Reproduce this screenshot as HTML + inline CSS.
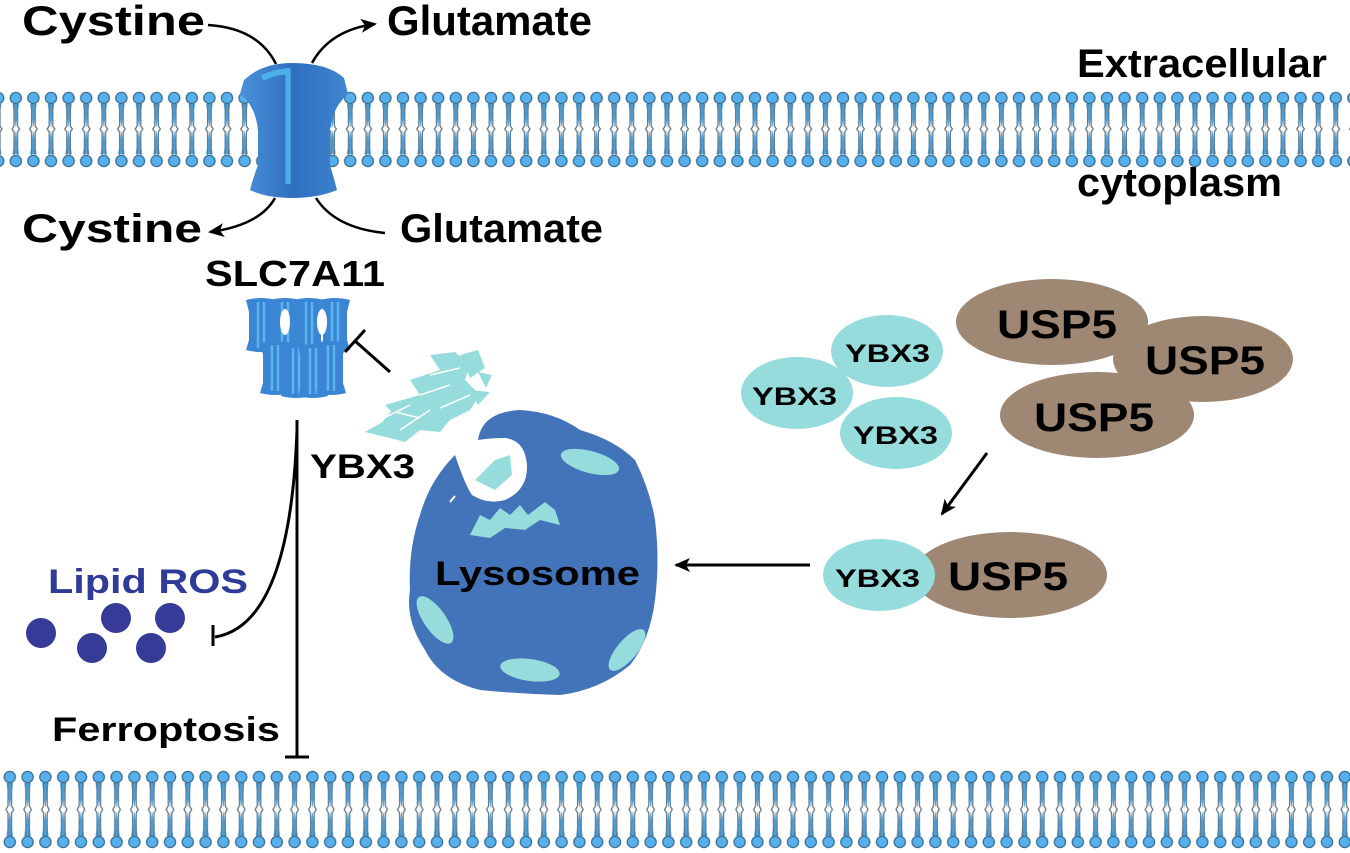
<!DOCTYPE html>
<html><head><meta charset="utf-8"><style>
html,body{margin:0;padding:0;background:#fff;}
svg{display:block;}
text{font-family:"Liberation Sans",Arial,sans-serif;font-weight:bold;}
</style></head><body>
<svg width="1350" height="853" viewBox="0 0 1350 853" xmlns="http://www.w3.org/2000/svg">
<defs>
<pattern id="lipTop" x="7" y="0" width="17.6" height="853" patternUnits="userSpaceOnUse">
  <path d="M5.5 104 L8.8 128 L12 104 Z" fill="#3ea3e6"/>
  <path d="M5.5 154 L8.8 130 L12 154 Z" fill="#3ea3e6"/>
  <path d="M7 103 L7 126 L5 129 L7 132 L7 155 M10.6 103 L10.6 126 L12.6 129 L10.6 132 L10.6 155" fill="none" stroke="#6a7a88" stroke-width="1.3"/>
  <circle cx="8.8" cy="98" r="5.6" fill="#56b0ee" stroke="#3b6f92" stroke-width="1.3"/>
  <circle cx="8.8" cy="161" r="5.6" fill="#56b0ee" stroke="#3b6f92" stroke-width="1.3"/>
</pattern>
<pattern id="lipBot" x="1" y="0" width="17.8" height="853" patternUnits="userSpaceOnUse">
  <path d="M5.5 783 L8.8 808 L12 783 Z" fill="#3ea3e6"/>
  <path d="M5.5 836 L8.8 811 L12 836 Z" fill="#3ea3e6"/>
  <path d="M7 782 L7 806 L5 809.5 L7 813 L7 837 M10.6 782 L10.6 806 L12.6 809.5 L10.6 813 L10.6 837" fill="none" stroke="#6a7a88" stroke-width="1.3"/>
  <circle cx="8.8" cy="777" r="5.6" fill="#56b0ee" stroke="#3b6f92" stroke-width="1.3"/>
  <circle cx="8.8" cy="842" r="5.6" fill="#56b0ee" stroke="#3b6f92" stroke-width="1.3"/>
</pattern>
<linearGradient id="tg" x1="0" x2="1">
  <stop offset="0" stop-color="#4a92d8"/><stop offset="0.5" stop-color="#2f6fc0"/><stop offset="1" stop-color="#3f86d0"/>
</linearGradient>
<marker id="ar2" markerWidth="16" markerHeight="14" refX="14" refY="7" orient="auto" markerUnits="userSpaceOnUse">
  <path d="M0 0 L16 7 L0 14 L4 7 Z" fill="#000"/>
</marker>
<g id="mini">
  <path d="M-2 0 Q13 -4 28 0 L25 12 L25 40 L28 50 Q13 54 -2 50 L1 40 L1 12 Z" fill="#3a86d4"/>
  <path d="M10 2 L10 48 M16 2 L16 48" stroke="#5ab4ee" stroke-width="2.5"/>
</g>
</defs>

<rect x="0" y="88" width="1350" height="82" fill="url(#lipTop)"/>
<rect x="0" y="768" width="1350" height="82" fill="url(#lipBot)"/>

<!-- transporter -->
<path d="M244 80 Q262 63 292 63 Q328 63 344 78 L348 94 Q332 108 330 130 L330 165 Q334 178 337 190 Q318 198 292 198 Q266 198 250 190 Q253 178 258 165 L258 130 Q255 105 240 94 Z" fill="url(#tg)"/>
<path d="M288 68 L288 184" stroke="#4eaee8" stroke-width="5" fill="none"/>
<path d="M262 78 Q280 70 290 72" stroke="#4eaee8" stroke-width="6" fill="none"/>

<!-- transporter arrows -->
<path d="M208 25 Q258 28 276 64" fill="none" stroke="#000" stroke-width="2.5"/>
<path d="M312 63 Q330 30 375 24" fill="none" stroke="#000" stroke-width="2.5" marker-end="url(#ar2)"/>
<path d="M275 198 Q260 225 210 232" fill="none" stroke="#000" stroke-width="2.5" marker-end="url(#ar2)"/>
<path d="M316 198 Q335 228 385 233" fill="none" stroke="#000" stroke-width="2.5"/>

<text x="22" y="35" font-size="42" textLength="183" lengthAdjust="spacingAndGlyphs">Cystine</text>
<text x="387" y="35" font-size="42" textLength="205" lengthAdjust="spacingAndGlyphs">Glutamate</text>
<text x="1077" y="77" font-size="40" textLength="250" lengthAdjust="spacingAndGlyphs">Extracellular</text>
<text x="1077" y="196" font-size="40" textLength="205" lengthAdjust="spacingAndGlyphs">cytoplasm</text>
<text x="22" y="242" font-size="40" textLength="180" lengthAdjust="spacingAndGlyphs">Cystine</text>
<text x="400" y="242" font-size="40" textLength="203" lengthAdjust="spacingAndGlyphs">Glutamate</text>
<text x="205" y="286" font-size="36" textLength="180" lengthAdjust="spacingAndGlyphs">SLC7A11</text>

<!-- SLC7A11 cluster -->
<use href="#mini" x="248" y="300"/>
<use href="#mini" x="272" y="300"/>
<use href="#mini" x="296" y="300"/>
<use href="#mini" x="322" y="300"/>
<ellipse cx="285" cy="322" rx="5" ry="13" fill="#fff"/>
<ellipse cx="322" cy="322" rx="5" ry="13" fill="#fff"/>
<use href="#mini" x="262" y="343"/>
<use href="#mini" x="283" y="346"/>
<use href="#mini" x="300" y="346"/>
<use href="#mini" x="318" y="343"/>

<!-- inhibition from YBX3 to SLC7A11 -->
<path d="M390 372 L355 341" stroke="#000" stroke-width="3"/>
<path d="M345 352 L365 330" stroke="#000" stroke-width="3"/>

<!-- YBX3 fragments -->
<g fill="#97dcdc">
  <path d="M365 432 L395 415 L385 405 L420 395 L410 380 L440 370 L430 355 L455 352 L470 365 L465 380 L480 395 L470 410 L450 420 L440 432 L420 430 L405 442 L390 438 Z"/>
  <path d="M380 425 L400 400 L395 420 Z"/>
  <path d="M460 355 L478 350 L485 368 L470 378 Z"/>
  <path d="M470 390 L490 392 L478 405 Z"/>
  <path d="M478 372 L492 375 L486 388 Z"/>
</g>
<g stroke="#fff" stroke-width="1.5" fill="none">
  <path d="M380 420 L410 405 M400 430 L430 410 M420 395 L450 385 M440 408 L470 395 M430 375 L460 368 M395 412 L420 418"/>
</g>

<text x="310" y="478" font-size="34" textLength="105" lengthAdjust="spacingAndGlyphs">YBX3</text>

<!-- Lysosome -->
<path d="M478 440 Q482 412 520 410 Q555 412 580 430 Q615 440 635 460 Q650 490 655 520 Q660 560 655 600 Q650 640 630 665 Q600 690 560 695 Q520 694 480 690 Q440 680 425 650 Q405 620 410 590 Q408 550 420 515 Q430 480 455 455 Q465 485 472 495 Q488 505 505 500 Q528 490 527 465 Q525 440 505 438 Q490 438 478 440 Z" fill="#4373b9"/>
<g fill="#97dcdc">
  <ellipse cx="590" cy="462" rx="30" ry="11" transform="rotate(15 590 462)"/>
  <ellipse cx="435" cy="620" rx="11" ry="28" transform="rotate(-35 435 620)"/>
  <ellipse cx="627" cy="650" rx="10" ry="26" transform="rotate(40 627 650)"/>
  <ellipse cx="530" cy="670" rx="30" ry="11" transform="rotate(8 530 670)"/>
  <path d="M470 535 L480 515 L490 520 L500 508 L510 515 L520 505 L528 515 L545 502 L555 510 L560 525 L540 520 L525 530 L505 528 L490 538 Z"/>
  <path d="M475 480 L495 460 L510 455 L512 475 L495 490 Z"/>
</g>
<path d="M450 502 L455 496" stroke="#fff" stroke-width="2"/>
<text x="435" y="585" font-size="34" textLength="205" lengthAdjust="spacingAndGlyphs">Lysosome</text>

<!-- SLC7A11 downstream lines -->
<path d="M297 420 L297 757" stroke="#000" stroke-width="3"/>
<path d="M285 757 L309 757" stroke="#000" stroke-width="3"/>
<path d="M297 430 Q290 625 215 637" fill="none" stroke="#000" stroke-width="3"/>
<path d="M213 625 L213 646" stroke="#000" stroke-width="3"/>

<text x="48" y="593" font-size="34" fill="#2f3a99" textLength="200" lengthAdjust="spacingAndGlyphs">Lipid ROS</text>
<g fill="#363b98">
  <circle cx="41" cy="633" r="15"/><circle cx="92" cy="648" r="15"/><circle cx="116" cy="618" r="15"/>
  <circle cx="170" cy="618" r="15"/><circle cx="151" cy="648" r="15"/>
</g>
<text x="52" y="741" font-size="34" textLength="228" lengthAdjust="spacingAndGlyphs">Ferroptosis</text>

<!-- complexes -->
<ellipse cx="1052" cy="322" rx="96" ry="43" fill="#9e8773"/>
<ellipse cx="1203" cy="359" rx="90" ry="43" fill="#9e8773"/>
<ellipse cx="1097" cy="415" rx="97" ry="43" fill="#9e8773"/>
<text x="997" y="338" font-size="40" textLength="120" lengthAdjust="spacingAndGlyphs">USP5</text>
<text x="1145" y="374" font-size="40" textLength="120" lengthAdjust="spacingAndGlyphs">USP5</text>
<text x="1034" y="431" font-size="40" textLength="120" lengthAdjust="spacingAndGlyphs">USP5</text>
<g fill="#97dcdc">
  <ellipse cx="887" cy="351" rx="56" ry="36"/>
  <ellipse cx="797" cy="393" rx="56" ry="36"/>
  <ellipse cx="896" cy="433" rx="56" ry="36"/>
</g>
<text x="845" y="362" font-size="25" textLength="85" lengthAdjust="spacingAndGlyphs">YBX3</text>
<text x="752" y="405" font-size="25" textLength="85" lengthAdjust="spacingAndGlyphs">YBX3</text>
<text x="853" y="444" font-size="25" textLength="85" lengthAdjust="spacingAndGlyphs">YBX3</text>

<path d="M987 453 L942 514" stroke="#000" stroke-width="3" marker-end="url(#ar2)"/>

<ellipse cx="1010" cy="575" rx="97" ry="43" fill="#9e8773"/>
<ellipse cx="879" cy="575" rx="56" ry="36" fill="#97dcdc"/>
<text x="835" y="587" font-size="25" textLength="85" lengthAdjust="spacingAndGlyphs">YBX3</text>
<text x="948" y="590" font-size="40" textLength="120" lengthAdjust="spacingAndGlyphs">USP5</text>

<path d="M810 565 L676 565" stroke="#000" stroke-width="3" marker-end="url(#ar2)"/>
</svg>
</body></html>
